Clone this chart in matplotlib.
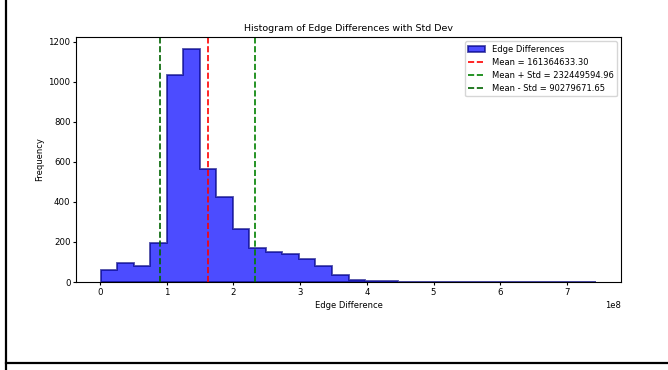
import matplotlib
matplotlib.use("Agg")
import matplotlib.pyplot as plt
from matplotlib.lines import Line2D
import numpy as np

# histogram: 30 bins between the min and max edge difference
bin_start = 0.01e8
bin_stop = 7.44e8
n_bins = 30
counts = [58, 95, 78, 195, 1035, 1165, 566, 423, 265, 168,
          150, 138, 117, 80, 33, 8, 4, 3, 2, 0,
          1, 1, 1, 0, 1, 1, 1, 0, 0, 1]

mean_val = 161364633.30
plus_std = 232449594.96
minus_std = 90279671.65

edges = np.linspace(bin_start, bin_stop, n_bins + 1)
centers = (edges[:-1] + edges[1:]) / 2

plt.rcParams['font.size'] = 6

fig = plt.figure(figsize=(6.68, 3.70), dpi=100)
ax = fig.add_axes([0.1138, 0.2378, 0.8159, 0.6622])

ax.hist(centers, bins=edges, weights=counts, histtype='stepfilled',
        color='blue', alpha=0.7, edgecolor='#000080', linewidth=1.3,
        label='Edge Differences')
ax.axvline(mean_val, color='red', linestyle='--', linewidth=1.2,
           label='Mean = {:.2f}'.format(mean_val))
ax.axvline(plus_std, color='green', linestyle='--', linewidth=1.2,
           label='Mean + Std = {:.2f}'.format(plus_std))
ax.axvline(minus_std, color='darkgreen', linestyle='--', linewidth=1.2,
           label='Mean - Std = {:.2f}'.format(minus_std))

ax.set_title('Histogram of Edge Differences with Std Dev', fontsize=6.8, pad=4)
ax.set_xlabel('Edge Difference', fontsize=6, labelpad=3)
ax.set_ylabel('Frequency', fontsize=6, labelpad=3)
ax.tick_params(labelsize=6.2, length=2.5, pad=1.5)
ax.legend(loc='upper right', fontsize=6)

# frame lines around the chart
fig.add_artist(Line2D([0.0097, 0.0097], [0, 1], color='black', linewidth=1.6))
fig.add_artist(Line2D([0.0097, 1], [0.0176, 0.0176], color='black', linewidth=1.6))

fig.savefig('out.png', dpi=100)
